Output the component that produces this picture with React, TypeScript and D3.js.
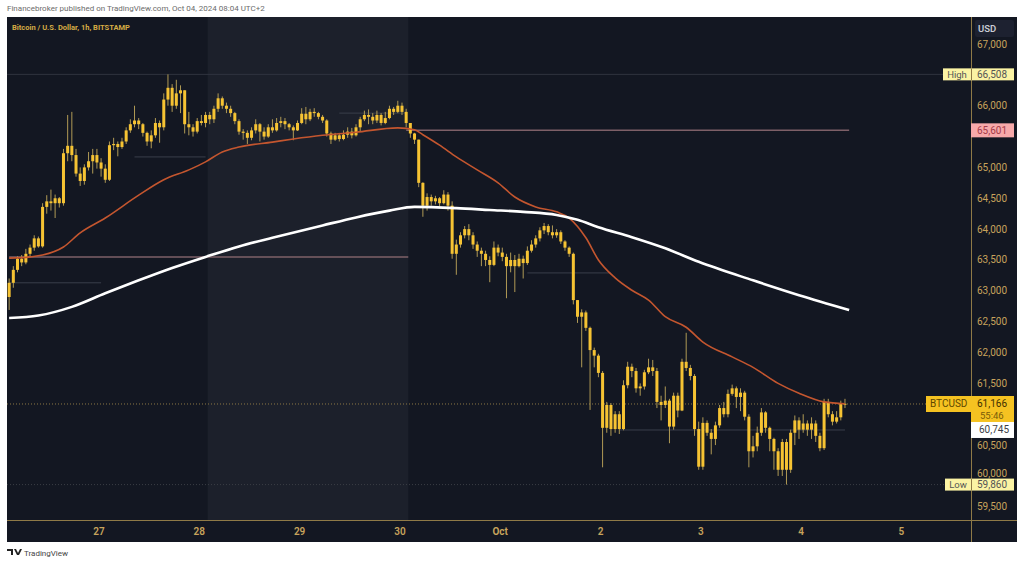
import React from 'react';
import * as d3 from 'd3';

// BTCUSD 1h candles, Bitstamp, 26 Sep - 4 Oct 2024 (open = previous close)
const HOUR = 3600 * 1000;
const FIRST_BAR = Date.UTC(2024, 8, 26, 2, 0);
const FIRST_OPEN = 62900;

const closes = [
  63130, 63340, 63520, 63460, 63600, 63700, 63850, 63720, 64360, 64450,
  64420, 64500, 64420, 65230, 65350, 65200, 64900, 64780, 65000, 65100,
  65200, 65080, 64980, 64800, 65360, 65380, 65330, 65420, 65600, 65700,
  65760, 65700, 65560, 65420, 65520, 65720, 65650, 66100, 66290, 66000,
  66200, 66250, 65700, 65650, 65580, 65750, 65720, 65850, 65780, 65950,
  66120, 66000, 65950, 65880, 65750, 65580, 65560, 65480, 65600, 65700,
  65580, 65500, 65650, 65600, 65720, 65750, 65700, 65650, 65600, 65720,
  65870, 65780, 65900, 65880, 65820, 65760, 65550, 65450, 65520, 65460,
  65530, 65580, 65520, 65650, 65780, 65850, 65820, 65760, 65850, 65720,
  65800, 65950, 65900, 66000, 65900, 65720, 65550, 65450, 64750, 64380,
  64520, 64450, 64500, 64420, 64560, 64380, 63600, 63750, 63900, 64000,
  63900, 63750, 63650, 63600, 63500, 63420, 63700, 63620, 63550, 63400,
  63500, 63400, 63520, 63450, 63650, 63750, 63850, 63980, 64050, 63950,
  63900, 63950, 63800, 63700, 63600, 62850,
  62580, 62650, 62400, 62040, 61950, 61670, 60780, 61150, 60760, 61000,
  60760, 61470, 61770, 61700, 61420, 61450, 61680, 61760, 61700, 61200,
  61150, 61220, 60800, 61300, 61060, 61850, 61750, 61620, 60760, 60150,
  60860, 60700, 60600, 60820, 61100, 61000, 61330, 61420, 61280, 61350,
  60960, 60400, 60480, 60700, 61030, 60780, 60600, 60400, 60100, 60550,
  60100, 60700, 60900, 60750, 60850, 60750, 60850, 60650, 60450, 61200,
  61000, 60880, 60950, 61170, 61166,
];

const highs = [
  63200, 63400, 63560, 63580, 63680, 63750, 63900, 63880, 64420, 64550,
  64640, 64560, 64520, 65300, 65850, 65900, 65300, 65000, 65050, 65250,
  65300, 65300, 65150, 65050, 65420, 65480, 65420, 65480, 65650, 65780,
  66000, 65800, 65720, 65580, 65600, 65800, 65760, 66200, 66508, 66350,
  66420, 66330, 66250, 65900, 65700, 65800, 65850, 65900, 65900, 66000,
  66200, 66150, 66050, 66000, 65900, 65780, 65620, 65600, 65650, 65780,
  65720, 65650, 65700, 65780, 65800, 65820, 65800, 65720, 65680, 65760,
  65960, 65980, 65950, 65960, 65900, 65850, 65780, 65580, 65560, 65560,
  65600, 65650, 65640, 65700, 65820, 65920, 65940, 65880, 65920, 65880,
  65900, 66000, 65980, 66080, 66050, 65950, 65720, 65560, 65450, 64760,
  64580, 64560, 64540, 64520, 64630, 64600, 64450, 63830, 63950, 64050,
  64080, 63950, 63800, 63700, 63650, 63560, 63800, 63750, 63700, 63600,
  63620, 63580, 63600, 63570, 63720, 63820, 63900, 64030, 64100, 64080,
  64060, 64000, 63980, 63820, 63720, 63620,
  62850, 62700, 62680, 62420, 62080, 61980, 61700, 61200, 61180, 61050,
  61050, 61550, 61850, 61820, 61750, 61500, 61720, 61900, 61880, 61750,
  61300, 61450, 61250, 61350, 61350, 61900, 62320, 61800, 61650, 60880,
  60950, 60900, 60760, 60880, 61150, 61200, 61400, 61480, 61450, 61420,
  61380, 61000, 60650, 60800, 61100, 61050, 60800, 60620, 60450, 60600,
  60600, 60750, 60980, 60950, 61000, 60900, 60950, 60900, 60700, 61250,
  61250, 61050, 61050, 61220, 61250,
];

const lows = [
  62690, 63050, 63300, 63400, 63430, 63560, 63650, 63700, 63700, 64250,
  64300, 64180, 64350, 64380, 65100, 65100, 64850, 64700, 64720, 64950,
  64900, 64980, 64850, 64750, 64780, 65280, 65180, 65300, 65380, 65560,
  65650, 65620, 65500, 65350, 65310, 65480, 65400, 65600, 66000, 65900,
  65950, 65880, 65550, 65520, 65500, 65550, 65680, 65650, 65700, 65720,
  65900, 65950, 65880, 65820, 65700, 65530, 65450, 65380, 65440, 65550,
  65420, 65450, 65480, 65560, 65580, 65650, 65620, 65600, 65440, 65590,
  65700, 65700, 65750, 65820, 65780, 65720, 65500, 65380, 65430, 65420,
  65440, 65480, 65470, 65500, 65580, 65750, 65700, 65700, 65720, 65680,
  65700, 65780, 65850, 65880, 65850, 65650, 65480, 65380, 64680, 64200,
  64300, 64380, 64400, 64370, 64400, 64300, 63520, 63260, 63700, 63850,
  63820, 63680, 63550, 63400, 63400, 63140, 63400, 63560, 63480, 62880,
  63300, 62980, 63380, 63200, 63420, 63620, 63700, 63800, 63920, 63900,
  63850, 63860, 63760, 63650, 63550, 62780,
  62480, 61760, 62350, 61070, 61760, 61600, 60140, 60700, 60650, 60700,
  60680, 60740, 61420, 61600, 61350, 61300, 61400, 61650, 61620, 61100,
  60900, 61100, 60530, 60750, 60950, 61050, 61700, 61550, 60650, 60100,
  60100, 60650, 60350, 60500, 60780, 60950, 60950, 61300, 61100, 61050,
  60900, 60140, 60300, 60400, 60650, 60700, 60400, 60100, 60000, 60000,
  59860, 60050, 60500, 60600, 60700, 60650, 60600, 60550, 60400, 60420,
  60950, 60820, 60850, 60900, 61100,
];

// moving averages: [bar index, price]
const fastMa = [
  [0, 63530], [5, 63550], [8, 63580], [13, 63710], [17, 63940], [23, 64180],
  [31, 64550], [37, 64800], [43, 64960], [47, 65090], [51, 65250], [55, 65330],
  [63, 65410], [68, 65460], [75, 65520], [83, 65570], [93, 65640], [97, 65610],
  [99, 65530], [103, 65360], [107, 65170], [112, 64960], [117, 64750], [121, 64520],
  [126, 64360], [131, 64280], [134, 64180], [138, 63860], [141, 63500], [145, 63210],
  [149, 63010], [153, 62850], [157, 62580], [162, 62410], [166, 62170], [173, 61930],
  [178, 61760], [184, 61500], [189, 61340], [195, 61200], [200, 61170],
];

const slowMa = [
  [0, 62560], [7, 62600], [15, 62740], [23, 62960], [31, 63170], [39, 63370],
  [47, 63550], [55, 63720], [63, 63860], [75, 64060], [83, 64190],
  [91, 64300], [97, 64360], [107, 64340], [115, 64310], [123, 64280], [131, 64230],
  [136, 64150], [141, 64030], [149, 63870], [157, 63690], [165, 63470], [178, 63170],
  [189, 62930], [201, 62690],
];

// axis labels that TradingView leaves visible (66,500 / 65,500 / 61,000 sit under price tags)
const priceTicks = [
  59500, 60000, 60500, 61500, 62000, 62500, 63000,
  63500, 64000, 64500, 65000, 66000, 67000,
];

const dayLabels = ['27', '28', '29', '30', 'Oct', '2', '3', '4', '5'];
const dayTimes = [
  Date.UTC(2024, 8, 27), Date.UTC(2024, 8, 28), Date.UTC(2024, 8, 29),
  Date.UTC(2024, 8, 30), Date.UTC(2024, 9, 1), Date.UTC(2024, 9, 2),
  Date.UTC(2024, 9, 3), Date.UTC(2024, 9, 4), Date.UTC(2024, 9, 5),
];

const weekend = [Date.UTC(2024, 8, 28, 2), Date.UTC(2024, 8, 30, 2)];

// drawn levels: [price, from bar, to bar]
const rangeLines = [[63550, 0, 95.5], [65601, 95, 201]];
const sessionLines = [
  [63130, 0, 22], [65170, 30, 47], [65880, 79, 95], [63290, 124, 144], [60745, 146, 200],
];

const HIGH = 66508;
const LOW = 59860;
const LAST = 61166;
const PREV_CLOSE = 60745;
const TAG = 65601;

const FONT = "Roboto, 'Noto Sans', sans-serif";

const App: React.FC = () => {
  const width = 1024;
  const height = 566;
  const left = 7;
  const right = 971;
  const top = 17;
  const bottom = 520;
  const outerRight = 1017;
  const outerBottom = 542;

  const x = d3.scaleUtc()
    .domain([dayTimes[0], dayTimes[dayTimes.length - 1]])
    .range([99, 901.4]);
  const y = d3.scaleLinear().domain([59500, 67000]).range([506.8, 44]);

  const barX = (i: number) => x(FIRST_BAR + i * HOUR + HOUR / 2);
  const step = barX(1) - barX(0);
  const bodyW = step * 0.72;

  const candles = closes.map((c, i) => {
    const o = i === 0 ? FIRST_OPEN : closes[i - 1];
    return { i, o, c, h: Math.max(highs[i], o, c), l: Math.min(lows[i], o, c) };
  });

  const maLine = d3.line<number[]>()
    .x(d => barX(d[0]))
    .y(d => y(d[1]))
    .curve(d3.curveMonotoneX);

  const fmt = d3.format(',');
  const axisColor = '#c7a35c';
  const tagX = right;
  const tagW = outerRight - 3 - right;

  return (
    <div style={{ position: 'absolute', left: 0, top: 0 }}>
      <svg width={width} height={height} style={{ display: 'block', background: '#fff' }}>
        <defs>
          <clipPath id="plot">
            <rect x={left} y={top} width={right - left} height={bottom - top} />
          </clipPath>
        </defs>

        <text x={7} y={11} fontFamily={FONT} fontSize={8} fill="#6b6b6b">
          Financebroker published on TradingView.com, Oct 04, 2024 08:04 UTC+2
        </text>

        <rect x={left} y={top} width={outerRight - left} height={outerBottom - top} fill="#131722" />

        <g clipPath="url(#plot)">
          <rect x={x(weekend[0])} y={top} width={x(weekend[1]) - x(weekend[0])} height={bottom - top} fill="#1c202b" />

          {sessionLines.map((d, k) => (
            <line key={`s${k}`} x1={barX(d[1])} x2={barX(d[2])} y1={y(d[0])} y2={y(d[0])}
              stroke="#3a3f4b" strokeWidth={1} />
          ))}

          <line x1={left} x2={right} y1={y(HIGH)} y2={y(HIGH)} stroke="#30343f" strokeWidth={1} />
          <line x1={left} x2={right} y1={y(LOW)} y2={y(LOW)} stroke="#3a3d45" strokeWidth={1} strokeDasharray="1 2" />

          {rangeLines.map((d, k) => (
            <line key={`r${k}`} x1={barX(d[1])} x2={barX(d[2])} y1={y(d[0])} y2={y(d[0])}
              stroke="#7e6068" strokeWidth={1.5} />
          ))}

          <line x1={left} x2={right} y1={y(LAST)} y2={y(LAST)} stroke="#8c7745" strokeWidth={1} strokeDasharray="1 2" />

          {candles.map(d => (
            <g key={d.i}>
              <line x1={barX(d.i)} x2={barX(d.i)} y1={y(d.h)} y2={y(d.l)} stroke="#b09a55" strokeWidth={1} />
              <rect
                x={barX(d.i) - bodyW / 2}
                y={y(Math.max(d.o, d.c))}
                width={bodyW}
                height={Math.max(1, y(Math.min(d.o, d.c)) - y(Math.max(d.o, d.c)))}
                fill="#f6c333"
              />
            </g>
          ))}

          <path d={maLine(fastMa) || ''} fill="none" stroke="#c4562f" strokeWidth={1.6} />
          <path d={maLine(slowMa) || ''} fill="none" stroke="#ffffff" strokeWidth={2.6} />
        </g>

        <text x={12} y={30} fontFamily={FONT} fontSize={7.5} fontWeight={700} fill="#d6ac45">
          Bitcoin / U.S. Dollar, 1h, BITSTAMP
        </text>

        {/* axes */}
        <line x1={right + 0.5} x2={right + 0.5} y1={top} y2={outerBottom} stroke="#8f7a47" strokeWidth={1} />
        <line x1={left} x2={outerRight} y1={bottom + 0.5} y2={bottom + 0.5} stroke="#8f7a47" strokeWidth={1} />

        {priceTicks.map(p => (
          <text key={p} x={977} y={y(p) + (p === 60000 ? -2 : 0)} dy="0.35em" fontFamily={FONT} fontSize={10} fill={axisColor}>
            {fmt(p)}
          </text>
        ))}

        {dayLabels.map((lab, k) => (
          <text key={lab} x={x(dayTimes[k])} y={531} dy="0.35em" textAnchor="middle"
            fontFamily={FONT} fontSize={10} fontWeight={lab === 'Oct' ? 700 : 600} fill={axisColor}>
            {lab}
          </text>
        ))}

        <rect x={975} y={20} width={39} height={17} rx={2} fill="#1d2130" />
        <text x={978} y={29} dy="0.35em" fontFamily={FONT} fontSize={9.5} fontWeight={600} fill="#c9cbd4">USD</text>

        {/* price tags */}
        <rect x={943} y={y(HIGH) - 6} width={outerRight - 3 - 943} height={12} fill="#fbf3a4" />
        <line x1={tagX + 0.5} x2={tagX + 0.5} y1={y(HIGH) - 6} y2={y(HIGH) + 6} stroke="#8f7a47" />
        <text x={957} y={y(HIGH)} dy="0.35em" textAnchor="middle" fontFamily={FONT} fontSize={9.5} fill="#555">High</text>
        <text x={977} y={y(HIGH)} dy="0.35em" fontFamily={FONT} fontSize={10} fill="#555">{fmt(HIGH)}</text>

        <rect x={tagX} y={y(TAG) - 7} width={tagW} height={14} fill="#f7a9aa" />
        <text x={977} y={y(TAG)} dy="0.35em" fontFamily={FONT} fontSize={10} fill="#a53b48">{fmt(TAG)}</text>

        <rect x={926} y={y(LAST) - 8} width={tagX - 926} height={16} fill="#f5c221" />
        <rect x={tagX} y={y(LAST) - 8} width={tagW} height={26} fill="#f5c221" />
        <text x={930} y={y(LAST)} dy="0.35em" fontFamily={FONT} fontSize={10} fill="#5e4700">BTCUSD</text>
        <text x={977} y={y(LAST)} dy="0.35em" fontFamily={FONT} fontSize={10} fill="#3f3000">{fmt(LAST)}</text>
        <text x={980} y={y(LAST) + 12} dy="0.35em" fontFamily={FONT} fontSize={9.5} fill="#7a5c08">55:46</text>

        <rect x={tagX} y={y(PREV_CLOSE) - 8} width={tagW} height={16} fill="#ffffff" />
        <text x={979} y={y(PREV_CLOSE)} dy="0.35em" fontFamily={FONT} fontSize={10} fill="#3d3f48">{fmt(PREV_CLOSE)}</text>

        <rect x={945} y={y(LOW) - 6} width={outerRight - 3 - 945} height={12} fill="#fbf3a4" />
        <line x1={tagX + 0.5} x2={tagX + 0.5} y1={y(LOW) - 6} y2={y(LOW) + 6} stroke="#8f7a47" />
        <text x={958} y={y(LOW)} dy="0.35em" textAnchor="middle" fontFamily={FONT} fontSize={9.5} fill="#555">Low</text>
        <text x={977} y={y(LOW)} dy="0.35em" fontFamily={FONT} fontSize={10} fill="#555">{fmt(LOW)}</text>

        {/* footer logo */}
        <path d="M7,549 h6 v6 h-2 v-4 h-4 z M14,549 h2 l2,4 l2,-4 h2 l-3,6 h-2 z" fill="#222" />
        <text x={24} y={556} fontFamily={FONT} fontSize={8} fill="#444">TradingView</text>
      </svg>
    </div>
  );
};

export default App;
